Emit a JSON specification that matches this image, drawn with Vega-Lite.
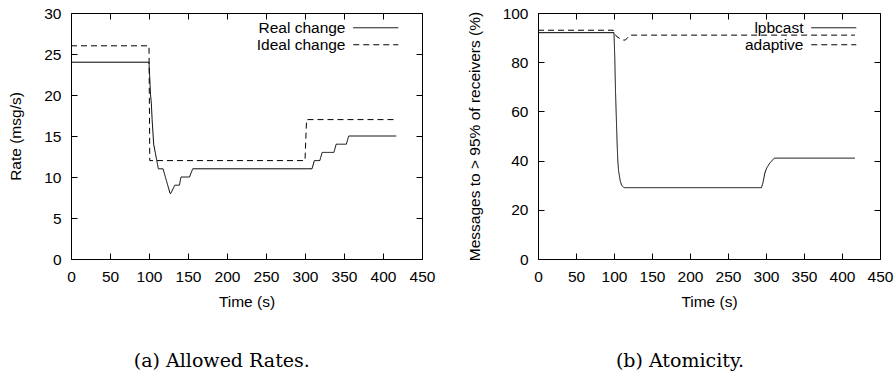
{
  "$schema": "https://vega.github.io/schema/vega-lite/v6.json",
  "padding": {"left": 8, "top": 5, "right": 5, "bottom": 0},
  "spacing": 30,
  "datasets": {
    "rates": [
      {"t": 0, "v": 24, "s": "Real change"}, {"t": 100, "v": 24, "s": "Real change"},
      {"t": 101, "v": 22, "s": "Real change"}, {"t": 102, "v": 20, "s": "Real change"},
      {"t": 103, "v": 19, "s": "Real change"}, {"t": 104, "v": 17, "s": "Real change"},
      {"t": 105, "v": 15.5, "s": "Real change"}, {"t": 106, "v": 14, "s": "Real change"},
      {"t": 108, "v": 13, "s": "Real change"}, {"t": 110, "v": 12, "s": "Real change"},
      {"t": 112, "v": 11, "s": "Real change"}, {"t": 118, "v": 11, "s": "Real change"},
      {"t": 127, "v": 8, "s": "Real change"}, {"t": 128, "v": 8, "s": "Real change"},
      {"t": 133, "v": 9, "s": "Real change"}, {"t": 139, "v": 9, "s": "Real change"},
      {"t": 141, "v": 10, "s": "Real change"}, {"t": 152, "v": 10, "s": "Real change"},
      {"t": 156, "v": 11, "s": "Real change"}, {"t": 309, "v": 11, "s": "Real change"},
      {"t": 312, "v": 12, "s": "Real change"}, {"t": 319, "v": 12, "s": "Real change"},
      {"t": 322, "v": 13, "s": "Real change"}, {"t": 337, "v": 13, "s": "Real change"},
      {"t": 340, "v": 14, "s": "Real change"}, {"t": 353, "v": 14, "s": "Real change"},
      {"t": 356, "v": 15, "s": "Real change"}, {"t": 417, "v": 15, "s": "Real change"},
      {"t": 0, "v": 26, "s": "Ideal change"}, {"t": 100, "v": 26, "s": "Ideal change"},
      {"t": 101, "v": 12, "s": "Ideal change"}, {"t": 300, "v": 12, "s": "Ideal change"},
      {"t": 302, "v": 17, "s": "Ideal change"}, {"t": 417, "v": 17, "s": "Ideal change"}
    ],
    "atom": [
      {"t": 0, "v": 92, "s": "lpbcast"}, {"t": 100, "v": 92, "s": "lpbcast"},
      {"t": 101, "v": 82, "s": "lpbcast"}, {"t": 102, "v": 68, "s": "lpbcast"},
      {"t": 103, "v": 58, "s": "lpbcast"}, {"t": 104, "v": 48, "s": "lpbcast"},
      {"t": 105, "v": 40, "s": "lpbcast"}, {"t": 106, "v": 36, "s": "lpbcast"},
      {"t": 108, "v": 32, "s": "lpbcast"}, {"t": 110, "v": 30, "s": "lpbcast"},
      {"t": 113, "v": 29, "s": "lpbcast"}, {"t": 294, "v": 29, "s": "lpbcast"},
      {"t": 296, "v": 31, "s": "lpbcast"}, {"t": 298.5, "v": 35, "s": "lpbcast"},
      {"t": 301, "v": 37, "s": "lpbcast"}, {"t": 305, "v": 39, "s": "lpbcast"},
      {"t": 311, "v": 41, "s": "lpbcast"}, {"t": 417, "v": 41, "s": "lpbcast"},
      {"t": 0, "v": 93, "s": "adaptive"}, {"t": 99, "v": 93, "s": "adaptive"},
      {"t": 101, "v": 91.5, "s": "adaptive"}, {"t": 104, "v": 90.3, "s": "adaptive"},
      {"t": 108, "v": 89.6, "s": "adaptive"}, {"t": 112, "v": 89, "s": "adaptive"},
      {"t": 115, "v": 89, "s": "adaptive"}, {"t": 118, "v": 90, "s": "adaptive"},
      {"t": 121, "v": 91, "s": "adaptive"}, {"t": 417, "v": 91, "s": "adaptive"}
    ]
  },
  "hconcat": [
    {
      "width": 351,
      "height": 246,
      "title": {"text": "(a) Allowed Rates.", "orient": "bottom", "frame": "bounds", "anchor": "middle", "offset": 42, "font": "DejaVu Serif", "fontSize": 19, "fontWeight": "normal", "color": "black"},
      "data": {"name": "rates"},
      "layer": [
        {
          "mark": {"type": "line", "color": "black", "strokeWidth": 1},
          "encoding": {
            "x": {"field": "t", "type": "quantitative", "scale": {"domain": [0, 450], "nice": false}, "axis": {"title": "Time (s)", "values": [0, 50, 100, 150, 200, 250, 300, 350, 400, 450]}},
            "y": {"field": "v", "type": "quantitative", "scale": {"domain": [0, 30], "nice": false}, "axis": {"title": "Rate (msg/s)", "values": [0, 5, 10, 15, 20, 25, 30]}},
            "strokeDash": {"field": "s", "type": "nominal", "scale": {"domain": ["Real change", "Ideal change"], "range": [[1, 0], [6, 4]]}, "legend": {"orient": "none", "legendX": 297, "legendY": 7}}
          }
        },
        {
          "mark": {"type": "line", "opacity": 0},
          "encoding": {
            "x": {"field": "t", "type": "quantitative", "axis": {"orient": "top", "labels": false, "title": null, "values": [0, 50, 100, 150, 200, 250, 300, 350, 400, 450]}},
            "y": {"field": "v", "type": "quantitative", "axis": {"orient": "right", "labels": false, "title": null, "values": [0, 5, 10, 15, 20, 25, 30]}},
            "detail": {"field": "s"}
          }
        }
      ],
      "resolve": {"axis": {"x": "independent", "y": "independent"}}
    },
    {
      "width": 342,
      "height": 246,
      "title": {"text": "(b) Atomicity.", "orient": "bottom", "frame": "bounds", "anchor": "middle", "offset": 42, "font": "DejaVu Serif", "fontSize": 19, "fontWeight": "normal", "color": "black"},
      "data": {"name": "atom"},
      "layer": [
        {
          "mark": {"type": "line", "color": "black", "strokeWidth": 1},
          "encoding": {
            "x": {"field": "t", "type": "quantitative", "scale": {"domain": [0, 450], "nice": false}, "axis": {"title": "Time (s)", "values": [0, 50, 100, 150, 200, 250, 300, 350, 400, 450]}},
            "y": {"field": "v", "type": "quantitative", "scale": {"domain": [0, 100], "nice": false}, "axis": {"title": "Messages to > 95% of receivers (%)", "values": [0, 20, 40, 60, 80, 100]}},
            "strokeDash": {"field": "s", "type": "nominal", "scale": {"domain": ["lpbcast", "adaptive"], "range": [[1, 0], [6, 4]]}, "legend": {"orient": "none", "legendX": 288, "legendY": 7}}
          }
        },
        {
          "mark": {"type": "line", "opacity": 0},
          "encoding": {
            "x": {"field": "t", "type": "quantitative", "axis": {"orient": "top", "labels": false, "title": null, "values": [0, 50, 100, 150, 200, 250, 300, 350, 400, 450]}},
            "y": {"field": "v", "type": "quantitative", "axis": {"orient": "right", "labels": false, "title": null, "values": [0, 20, 40, 60, 80, 100]}},
            "detail": {"field": "s"}
          }
        }
      ],
      "resolve": {"axis": {"x": "independent", "y": "independent"}}
    }
  ],
  "resolve": {"scale": {"strokeDash": "independent"}, "legend": {"strokeDash": "independent"}},
  "config": {
    "view": {"stroke": "black", "strokeWidth": 1},
    "axis": {
      "domain": false, "grid": false,
      "ticks": true, "tickColor": "black", "tickSize": -6, "tickWidth": 1,
      "labelFont": "Liberation Sans", "labelFontSize": 15.5, "labelColor": "black", "labelPadding": 16,
      "labelFlush": false, "labelOverlap": false,
      "titleFont": "Liberation Sans", "titleFontSize": 15.5, "titleFontWeight": "normal", "titleColor": "black", "titlePadding": 10
    },
    "axisY": {"titlePadding": 20},
    "legend": {
      "title": null,
      "symbolType": "M-4.5,0H4.5", "symbolSize": 100, "symbolStrokeWidth": 1, "symbolStrokeColor": "black",
      "labelAlign": "right", "labelOffset": -38,
      "labelFont": "Liberation Sans", "labelFontSize": 15.5, "labelColor": "black",
      "rowPadding": -2, "padding": 0
    }
  }
}
